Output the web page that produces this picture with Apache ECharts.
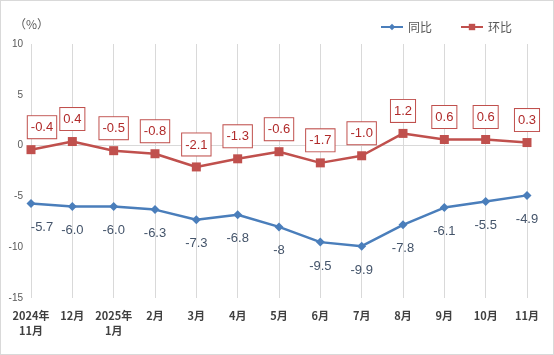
<!DOCTYPE html>
<html><head><meta charset="utf-8">
<script src="https://cdn.jsdelivr.net/npm/echarts@6/dist/echarts.min.js"></script>
<style>html,body{margin:0;padding:0;background:#fff;}#c{width:552px;height:353px;border:1px solid #d9d9d9;}</style>
</head><body><div id="c"></div>
<script>
const categories = ['2024年\n11月','12月','2025年\n1月','2月','3月','4月','5月','6月','7月','8月','9月','10月','11月'];
const yoy = [-5.7,-6.0,-6.0,-6.3,-7.3,-6.8,-8,-9.5,-9.9,-7.8,-6.1,-5.5,-4.9];
const yoyLabels = ['-5.7','-6.0','-6.0','-6.3','-7.3','-6.8','-8','-9.5','-9.9','-7.8','-6.1','-5.5','-4.9'];
const mom = [-0.4,0.4,-0.5,-0.8,-2.1,-1.3,-0.6,-1.7,-1.0,1.2,0.6,0.6,0.3];
const momLabels = ['-0.4','0.4','-0.5','-0.8','-2.1','-1.3','-0.6','-1.7','-1.0','1.2','0.6','0.6','0.3'];
const seriesNames = ['同比','环比'];
const font = '"Liberation Sans Narrow","Liberation Sans",sans-serif';
const firstShift = (v,i) => i === 0 ? {value:v,label:{offset:[11,0]}} : v;
const chart = echarts.init(document.getElementById('c'));
chart.setOption({
  animation:false,
  title:{text:'（%）',left:8,top:12,textStyle:{fontSize:12,fontWeight:'normal',color:'#595959',fontFamily:'"Noto Sans CJK SC",sans-serif'}},
  legend:{top:15,left:374,itemGap:28,itemWidth:22,itemHeight:8,
    textStyle:{fontSize:12,color:'#595959',fontFamily:'"Noto Sans CJK SC",sans-serif'},data:seriesNames},
  grid:{left:30,right:26,top:43,bottom:56,containLabel:false},
  xAxis:{type:'category',data:categories,boundaryGap:false,
    axisLine:{show:false},axisTick:{show:false},
    splitLine:{show:true,lineStyle:{color:'#d9d9d9',width:1}},
    axisLabel:{interval:0,margin:10,color:'#404040',fontSize:11,fontWeight:'bold',lineHeight:15,fontFamily:'"Noto Sans CJK SC",sans-serif'}},
  yAxis:{type:'value',min:-15,max:10,interval:5,
    axisLine:{show:false},axisTick:{show:false},splitLine:{show:false},
    axisLabel:{color:'#595959',fontSize:10,margin:8,fontFamily:font}},
  series:[
    {name:'zero',type:'line',data:[],z:0,silent:true,
      markLine:{z:0,silent:true,symbol:'none',label:{show:false},lineStyle:{color:'#d9d9d9',width:1,type:'solid'},data:[{yAxis:0}]}},
    {name:'同比',type:'line',data:yoy.map(firstShift),symbol:'diamond',symbolSize:9,z:3,
      lineStyle:{color:'#4a7ebb',width:2.5},itemStyle:{color:'#4a7ebb'},
      label:{show:true,position:'bottom',distance:13,color:'#44546a',fontSize:13,fontFamily:font,
        formatter:p=>yoyLabels[p.dataIndex]}},
    {name:'环比',type:'line',data:mom.map(firstShift),symbol:'rect',symbolSize:9,z:4,
      lineStyle:{color:'#c0504d',width:2.5},itemStyle:{color:'#c0504d'},
      label:{show:true,position:'top',distance:7,color:'#b02a2a',fontSize:13,fontFamily:font,
        backgroundColor:'#fff',borderColor:'#c0504d',borderWidth:1,padding:[5,3,4,3],
        formatter:p=>momLabels[p.dataIndex]}}
  ]
});
</script></body></html>
